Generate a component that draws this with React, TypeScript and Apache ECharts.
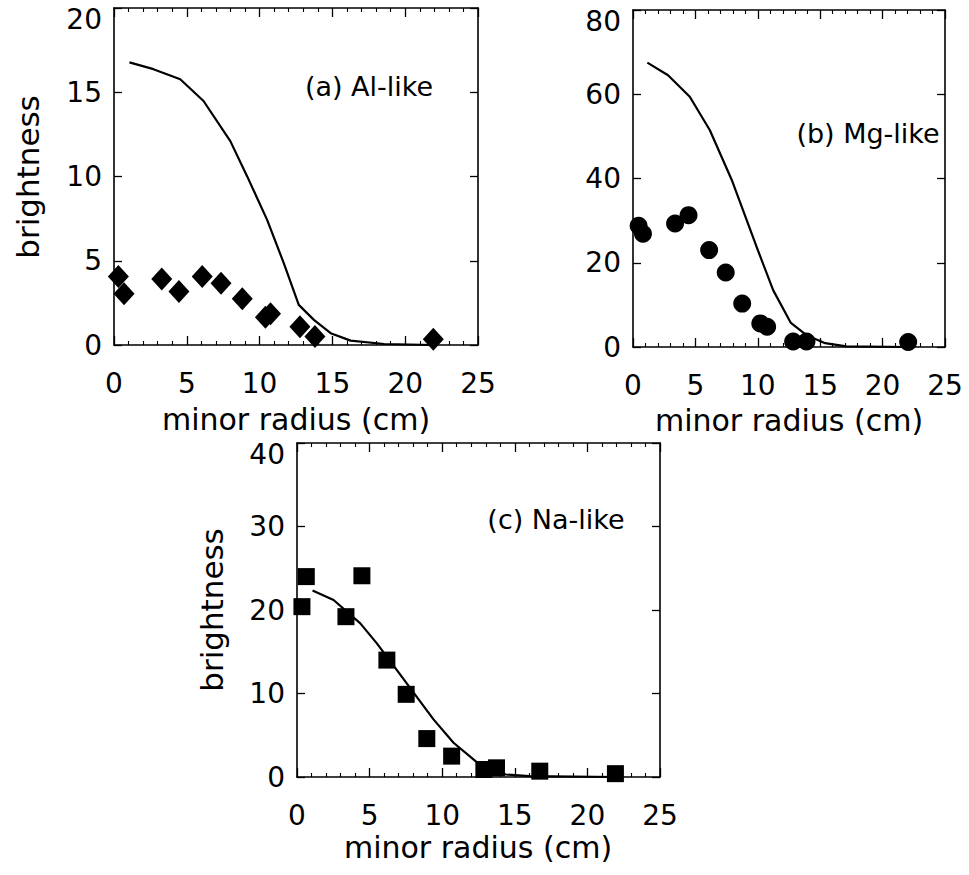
import React, { useEffect, useRef } from "react";
import * as echarts from "echarts";

// ---- data ----
const xTicks = [0, 5, 10, 15, 20, 25];

// (a) Al-like
const alRadius = [0.3, 0.69, 3.28, 4.46, 6.06, 7.35, 8.81, 10.4, 10.75, 12.77, 13.8, 21.93];
const alBright = [4.07, 3.04, 3.91, 3.17, 4.07, 3.67, 2.74, 1.65, 1.85, 1.09, 0.5, 0.34];
const alModelR = [1.06, 2.71, 4.55, 6.15, 7.99, 9.14, 10.51, 11.66, 12.69, 13.73, 14.88, 16.25, 18.55, 22];
const alModelB = [16.77, 16.37, 15.77, 14.48, 12.1, 10.02, 7.44, 4.86, 2.38, 1.49, 0.7, 0.26, 0.06, 0];

// (b) Mg-like
const mgRadius = [0.45, 0.8, 3.37, 4.45, 6.1, 7.43, 8.75, 10.2, 10.75, 12.83, 13.9, 22.05];
const mgBright = [28.8, 26.9, 29.3, 31.3, 23.0, 17.7, 10.3, 5.6, 4.8, 1.3, 1.3, 1.2];
const mgModelR = [1.15, 2.81, 4.55, 6.15, 7.95, 9.9, 11.23, 12.65, 13.9, 15.4, 17.1, 22];
const mgModelB = [67.5, 64.5, 59.4, 51.5, 39.4, 23.8, 13.5, 5.7, 2.8, 0.9, 0.15, 0];

// (c) Na-like
const naRadius = [0.34, 0.64, 3.37, 4.47, 6.19, 7.52, 8.94, 10.65, 12.87, 13.74, 16.72, 21.93];
const naBright = [20.4, 24.0, 19.2, 24.1, 14.0, 9.9, 4.6, 2.5, 0.9, 1.1, 0.7, 0.4];
const naModelR = [1.07, 2.52, 4.36, 5.5, 6.88, 8.03, 9.4, 10.78, 12.15, 13.0, 14.4, 16, 22];
const naModelB = [22.35, 21.2, 18.4, 16.0, 12.8, 10.1, 6.9, 4.1, 2.1, 0.9, 0.3, 0.1, 0];

const panelLabels = ["(a) Al-like", "(b) Mg-like", "(c) Na-like"];
const yMax = [20, 80, 40];
const yInterval = [5, 20, 10];
const xTitle = "minor radius (cm)";
const yTitle = "brightness";

const FONT = "DejaVu Sans";

const zip = (a: number[], b: number[]) => a.map((v, i) => [v, b[i]]);

export default function App() {
  const ref = useRef<HTMLDivElement>(null);
  useEffect(() => {
    if (!ref.current) return;
    const chart = echarts.init(ref.current, null, { renderer: "svg" });

    const grids = [
      { left: 114, top: 8, width: 364, height: 337 },
      { left: 633, top: 10, width: 312, height: 337 },
      { left: 297, top: 443, width: 363, height: 334 },
    ];

    const mkLine = (show = true) => ({ show, onZero: false, lineStyle: { color: "#000", width: 1.6 } });
    const xAxes: any[] = [];
    const yAxes: any[] = [];
    const xIdx: number[] = [];
    const yIdx: number[] = [];
    const xBase = (g: number) => ({
      type: "value",
      gridIndex: g,
      min: xTicks[0],
      max: xTicks[xTicks.length - 1],
      interval: 5,
      splitLine: { show: false },
      minorSplitLine: { show: false },
    });
    const yBase = (g: number) => ({
      type: "value",
      gridIndex: g,
      min: 0,
      max: yMax[g],
      interval: yInterval[g],
      splitLine: { show: false },
    });
    grids.forEach((_, g) => {
      // label-only x axis
      xAxes.push({
        ...xBase(g),
        position: "bottom",
        axisLine: mkLine(false),
        axisTick: { show: false },
        minorTick: { show: false },
        axisLabel: { show: true, fontSize: 28, fontFamily: FONT, color: "#000", margin: 24 },
      });
      // tick-only frame axes
      ["bottom", "top"].forEach((pos) => {
        if (pos === "bottom") xIdx.push(xAxes.length);
        xAxes.push({
          ...xBase(g),
          position: pos,
          axisLine: mkLine(true),
          axisTick: { show: true, inside: true, length: 9, lineStyle: { color: "#000", width: 1.3 } },
          minorTick: { show: true, splitNumber: 5, length: 4, lineStyle: { color: "#000", width: 1.1 } },
          axisLabel: { show: false },
        });
      });
      // label-only y axis
      const topVal = yMax[g];
      yAxes.push({
        ...yBase(g),
        position: "left",
        axisLine: mkLine(false),
        axisTick: { show: false },
        axisLabel: {
          show: true,
          fontSize: 28,
          fontFamily: FONT,
          color: "#000",
          margin: 12,
          formatter: (v: number) => (v === topVal ? `{top|${v}}` : `${v}`),
          rich: {
            top: { fontSize: 28, fontFamily: FONT, color: "#000", padding: [22, 0, 0, 0] },
          },
        },
      });
      ["left", "right"].forEach((pos) => {
        if (pos === "left") yIdx.push(yAxes.length);
        yAxes.push({
          ...yBase(g),
          position: pos,
          axisLine: mkLine(true),
          axisTick: { show: true, inside: true, length: 8, lineStyle: { color: "#000", width: 1.3 } },
          axisLabel: { show: false },
        });
      });
    });

    const scatterData = [zip(alRadius, alBright), zip(mgRadius, mgBright), zip(naRadius, naBright)];
    const modelData = [zip(alModelR, alModelB), zip(mgModelR, mgModelB), zip(naModelR, naModelB)];
    const symbols = ["diamond", "circle", "rect"];
    const sizes: any[] = [[21, 23], 18, 17];

    const series: any[] = [];
    for (let g = 0; g < 3; g++) {
      series.push({
        type: "line",
        xAxisIndex: xIdx[g],
        yAxisIndex: yIdx[g],
        data: modelData[g],
        showSymbol: false,
        symbol: "none",
        lineStyle: { color: "#000", width: 2.2 },
        z: 2,
      });
      series.push({
        type: "scatter",
        xAxisIndex: xIdx[g],
        yAxisIndex: yIdx[g],
        data: scatterData[g],
        symbol: symbols[g],
        symbolSize: sizes[g],
        itemStyle: { color: "#000", opacity: 1 },
        z: 3,
      });
    }

    const txt = (x: number, y: number, text: string, size: number, rot = 0) => ({
      type: "text",
      x,
      y,
      rotation: rot,
      style: {
        text,
        fontSize: size,
        fontFamily: FONT,
        fill: "#000",
        textAlign: "center",
        textVerticalAlign: "middle",
      },
      z: 10,
    });

    chart.setOption({
      animation: false,
      backgroundColor: "#fff",
      grid: grids,
      xAxis: xAxes,
      yAxis: yAxes,
      series,
      graphic: [
        txt(28, 177, yTitle, 31, Math.PI / 2),
        txt(212, 610, yTitle, 31, Math.PI / 2),
        txt(296, 419, xTitle, 30),
        txt(789, 420, xTitle, 30),
        txt(478, 847, xTitle, 30),
        txt(369, 86, panelLabels[0], 27),
        txt(868, 133, panelLabels[1], 27),
        txt(556, 519, panelLabels[2], 27),
      ],
    });
    return () => chart.dispose();
  }, []);
  return (
    <div
      ref={ref}
      style={{ position: "fixed", left: 0, top: 0, width: 969, height: 875, background: "#fff" }}
    />
  );
}
